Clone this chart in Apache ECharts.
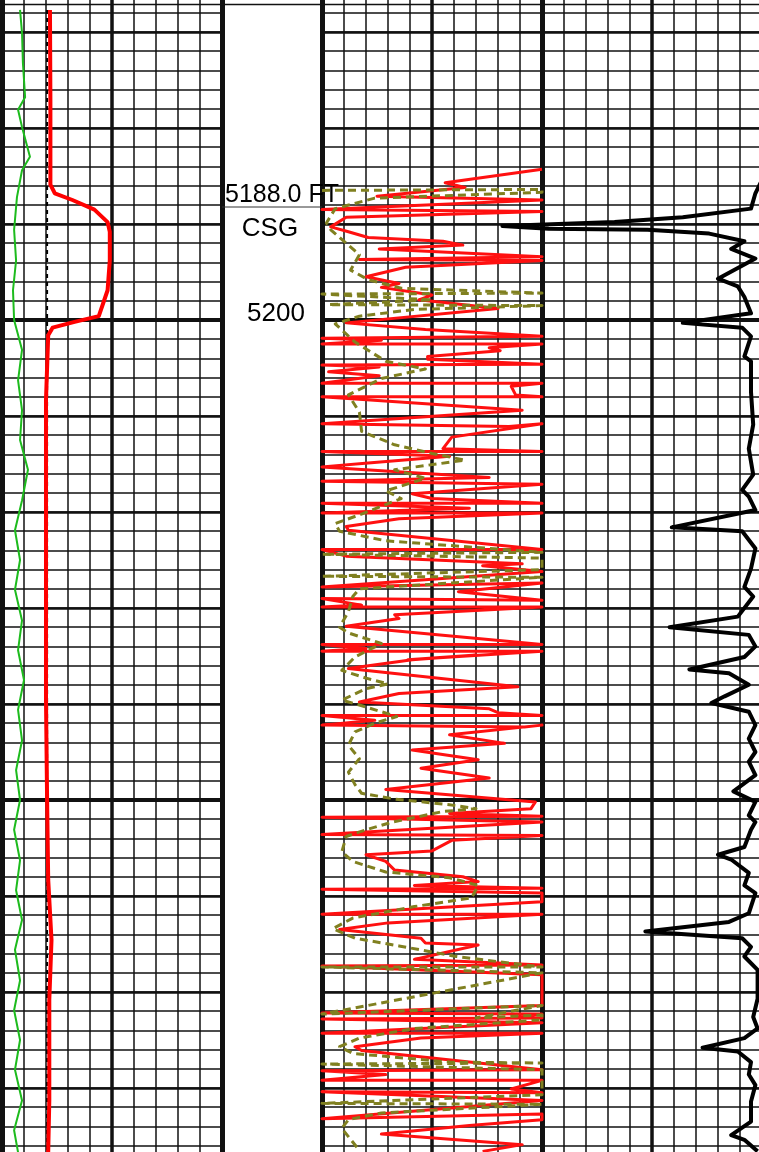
<!DOCTYPE html>
<html>
<head>
<meta charset="utf-8">
<script src="https://cdn.jsdelivr.net/npm/echarts@6.0.0/dist/echarts.min.js"></script>
<style>
  html, body { margin: 0; padding: 0; background: #fff; }
  #log { width: 759px; height: 1152px; }
</style>
</head>
<body>
<div id="log"></div>
<script>
// depth in ft, value in chart divisions (0..10 across each track)

// track 1
const greenCurve = [
  [5167.7, 0.82], [5170.1, 0.91], [5173.2, 0.95], [5176.8, 1.05], [5178.1, 0.73], [5179.9, 0.91],
  [5183.0, 1.27], [5184.4, 0.91], [5187.2, 0.68], [5190.6, 0.55], [5193.8, 0.64], [5196.9, 0.5],
  [5200.0, 0.55], [5203.1, 0.91], [5206.3, 0.73], [5209.4, 0.91], [5212.5, 0.82], [5215.6, 1.18],
  [5218.8, 0.91], [5221.9, 0.59], [5225.0, 0.82], [5228.1, 0.59], [5231.3, 0.91], [5234.4, 0.73],
  [5237.5, 1.0], [5240.6, 0.73], [5243.8, 0.91], [5246.9, 0.64], [5250.0, 0.82], [5253.1, 0.55],
  [5256.3, 0.82], [5259.4, 0.64], [5262.5, 0.91], [5265.6, 0.59], [5268.8, 0.82], [5271.9, 0.55],
  [5275.0, 0.82], [5278.1, 0.59], [5281.3, 0.91], [5284.4, 0.55], [5286.7, 0.73]
];
const redCurve1 = [
  [5167.7, 2.18], [5177.1, 2.2], [5182.3, 2.2], [5185.9, 2.2], [5186.8, 2.4], [5187.5, 3.2],
  [5188.5, 4.2], [5189.8, 4.8], [5190.8, 4.9], [5193.8, 4.9], [5196.9, 4.8], [5199.6, 4.4],
  [5200.2, 3.3], [5200.8, 2.3], [5201.6, 2.1], [5208.3, 2.0], [5218.8, 2.0], [5229.2, 2.0],
  [5239.6, 2.0], [5250.0, 2.05], [5258.3, 2.1], [5264.6, 2.25], [5270.8, 2.15], [5281.3, 2.15],
  [5286.7, 2.1]
];
const dashedCurve1 = [
  [5167.7, 2.05], [5200.0, 2.05], [5250.0, 2.05], [5286.7, 2.05]
];

// track 2
const redCurve2 = [
  [5184.3, 10], [5185.7, 5.6], [5186.2, 6.5], [5187.1, 2.5], [5187.5, 10], [5188.5, 0], [5188.7, 10],
  [5189.3, 1.1], [5190.3, 0.4], [5190.8, 1.2], [5191.4, 2.1], [5191.8, 5.5], [5192.2, 6.4], [5192.6, 2.6],
  [5193.4, 10], [5193.7, 1.7], [5193.8, 10], [5194.5, 3.8], [5195.5, 2.0], [5196.2, 3.5], [5196.6, 2.7],
  [5197.4, 5.0], [5197.9, 4.4], [5198.8, 8.0], [5200.3, 1.1],
  [5201.0, 4.7], [5201.7, 10], [5201.9, 0], [5202.1, 2.7], [5202.5, 0], [5202.5, 10], [5202.9, 7.6],
  [5203.2, 8.1], [5203.8, 4.8], [5204.1, 4.8], [5204.6, 10], [5204.7, 0], [5204.9, 2.6], [5205.4, 0.3],
  [5205.8, 2.6], [5206.6, 0], [5206.6, 10], [5206.9, 8.6], [5207.8, 8.8], [5208.0, 10], [5208.0, 0],
  [5209.4, 9.1], [5210.8, 0], [5211.1, 8.5], [5210.8, 10], [5212.2, 5.9], [5213.4, 5.5], [5213.7, 10],
  [5213.7, 0], [5214.2, 5.8], [5214.9, 2.1], [5215.3, 0], [5216.4, 7.6], [5216.8, 0], [5217.1, 10],
  [5218.1, 4.1], [5218.6, 5.0], [5219.1, 10], [5219.1, 0], [5219.6, 6.7], [5220.1, 0], [5220.1, 10],
  [5220.7, 3.5], [5221.5, 1.1], [5221.9, 1.2], [5223.9, 10], [5223.9, 0], [5224.6, 1.1], [5225.4, 9.1],
  [5225.6, 7.3], [5226.2, 10], [5227.8, 0], [5227.4, 10], [5228.3, 6.2], [5229.2, 10], [5229.0, 0],
  [5229.7, 1.8], [5229.9, 0], [5229.9, 10], [5230.7, 3.3], [5231.1, 3.5], [5231.9, 1.1], [5233.8, 10],
  [5233.8, 0], [5234.2, 2.0], [5234.5, 0], [5234.5, 10], [5235.4, 3.9],
  [5234.9, 7.0], [5235.4, 4.1], [5236.3, 1.2], [5238.2, 8.9], [5238.9, 3.5], [5239.8, 1.7], [5240.5, 7.6],
  [5240.9, 8.0], [5241.2, 10], [5241.2, 0], [5241.7, 2.4], [5242.2, 0], [5242.4, 9.2], [5242.2, 10],
  [5243.2, 5.8], [5244.1, 8.3], [5244.8, 4.1], [5245.8, 7.1], [5246.7, 4.5], [5247.7, 7.6], [5248.9, 2.9],
  [5250.2, 9.7], [5250.9, 9.5], [5251.4, 5.8], [5251.7, 10], [5251.8, 0],
  [5252.3, 10], [5253.6, 0], [5253.7, 10], [5254.2, 5.9], [5255.3, 5.0], [5255.7, 2.0], [5256.4, 2.9],
  [5257.3, 3.3], [5258.0, 6.4], [5258.5, 7.1], [5258.9, 4.2], [5259.2, 10], [5259.3, 0], [5259.7, 10],
  [5260.6, 10], [5261.9, 0], [5261.9, 10], [5262.8, 3.0], [5263.5, 0.8], [5264.4, 4.5], [5264.9, 4.7],
  [5265.1, 7.1], [5266.6, 4.2], [5267.2, 10], [5267.3, 0], [5267.4, 1.1], [5268.2, 10],
  [5271.4, 10], [5272.2, 0], [5272.3, 10], [5272.6, 8.8], [5272.7, 10], [5272.8, 0], [5273.2, 10],
  [5274.3, 0], [5274.3, 10], [5274.8, 4.5], [5275.7, 1.5], [5276.1, 1.8], [5278.1, 10], [5278.2, 0],
  [5278.6, 2.9], [5279.2, 0], [5279.2, 10], [5280.1, 8.6], [5280.5, 10], [5280.4, 0], [5281.3, 10],
  [5283.2, 0], [5282.7, 10], [5283.3, 10], [5283.9, 6.7], [5284.8, 2.7], [5285.9, 9.1], [5286.6, 7.3]
];
const oliveCurve2 = [
  [5186.5, 0], [5186.4, 10], [5186.7, 10], [5187.3, 2.4], [5188.4, 0.6], [5189.9, 0.2], [5190.6, 0.4],
  [5192.0, 1.1], [5193.2, 1.7], [5194.8, 1.3], [5195.8, 2.1], [5196.7, 3.6], [5197.2, 10], [5197.3, 0],
  [5197.9, 5.0], [5198.4, 0.3], [5198.5, 10], [5198.9, 4.2], [5199.6, 1.7], [5200.4, 0.6],
  [5202.3, 1.5], [5204.3, 2.9], [5205.1, 4.7], [5206.1, 2.7], [5207.8, 1.2], [5209.6, 1.7], [5211.6, 1.8],
  [5213.0, 3.3], [5213.9, 5.0], [5214.6, 6.5], [5215.6, 3.3], [5216.5, 4.7], [5217.8, 2.9],
  [5218.6, 3.6], [5220.3, 1.7], [5221.2, 0.6], [5222.0, 0.8], [5223.0, 2.9], [5224.2, 10], [5224.4, 0],
  [5224.8, 10], [5226.0, 10], [5226.7, 0], [5226.8, 10], [5228.0, 1.7], [5228.8, 1.4], [5230.4, 1.2],
  [5232.0, 0.8], [5232.6, 1.2], [5233.7, 2.7], [5235.1, 1.5],
  [5236.5, 0.9], [5237.3, 2.0], [5237.9, 3.0], [5238.4, 2.0], [5239.6, 0.9], [5240.1, 1.7], [5241.3, 3.4],
  [5242.0, 2.4], [5242.9, 1.5], [5244.3, 1.2], [5245.7, 1.7], [5247.1, 1.2], [5248.4, 1.5], [5249.3, 1.8],
  [5249.9, 3.3], [5250.5, 5.8], [5250.9, 7.0], [5251.2, 5.5], [5252.3, 3.2],
  [5253.1, 2.0], [5253.8, 1.1], [5255.4, 0.9], [5256.4, 1.4], [5257.5, 2.9], [5258.1, 5.8], [5258.9, 7.1],
  [5260.2, 6.8], [5261.1, 4.2], [5262.3, 1.4], [5263.4, 0.5], [5264.4, 1.5], [5265.2, 3.5], [5266.3, 6.1],
  [5267.4, 10], [5267.4, 0], [5268.0, 10],
  [5272.3, 0], [5271.4, 10], [5272.7, 7.0], [5272.4, 10], [5272.9, 10], [5273.8, 4.2], [5274.8, 1.7],
  [5275.7, 0.8], [5276.4, 1.4], [5277.3, 5.8], [5277.4, 10], [5277.5, 0], [5278.1, 10], [5280.7, 10],
  [5281.6, 0], [5281.7, 10], [5282.6, 2.7], [5283.3, 1.2], [5284.2, 0.9], [5286.5, 1.7]
];

// track 3
const blackCurve3 = [
  [5185.4, 10.0], [5186.8, 9.7], [5188.4, 9.5], [5189.3, 6.4], [5189.8, 3.3], [5190.2, -1.8], [5190.5, 0.3],
  [5190.6, 4.8], [5191.0, 7.6], [5191.8, 9.2], [5192.6, 8.6], [5193.6, 9.7], [5195.7, 8.0], [5196.5, 8.9],
  [5197.6, 9.2], [5199.3, 9.5], [5200.3, 6.4],
  [5200.8, 9.1], [5201.7, 9.5], [5203.8, 9.2], [5204.3, 9.5], [5207.5, 9.5], [5210.9, 9.6], [5213.4, 9.4],
  [5216.1, 9.6], [5217.7, 9.1],
  [5218.4, 9.4], [5219.8, 9.7], [5221.6, 5.9], [5222.0, 9.1], [5223.8, 9.7], [5225.9, 9.5], [5227.8, 9.2],
  [5228.8, 9.6], [5230.9, 8.9], [5232.0, 5.8], [5232.8, 9.4], [5234.0, 9.7], [5235.1, 9.2],
  [5236.4, 6.7], [5236.8, 8.5], [5238.0, 9.4], [5239.2, 8.3], [5239.9, 7.7], [5240.8, 9.4], [5242.2, 9.7],
  [5243.6, 9.4], [5245.0, 9.7], [5246.0, 9.4], [5247.4, 9.7], [5249.1, 8.7], [5250.2, 9.7], [5251.6, 9.4],
  [5252.3, 9.7], [5253.1, 9.5], [5254.9, 9.2], [5255.7, 8.0], [5256.2, 8.6], [5257.6, 9.4], [5258.9, 9.2],
  [5259.7, 9.7], [5261.8, 9.4], [5262.7, 8.5], [5263.7, 4.7], [5264.4, 9.1], [5265.3, 9.5], [5266.3, 9.2],
  [5267.7, 9.8], [5269.4, 9.8], [5270.7, 9.8], [5272.6, 9.6], [5273.8, 9.8], [5274.8, 9.2], [5275.8, 7.3],
  [5276.2, 8.9], [5277.3, 9.5], [5278.6, 9.4], [5279.7, 9.7], [5281.4, 9.5], [5283.5, 9.5], [5284.9, 8.6],
  [5285.4, 9.2], [5286.6, 9.8]
];

const depthLabels = ['5188.0 FT', 'CSG', '5200'];

const trackLeft = [2, 322, 542];
const gridTop = -160, gridHeight = 1440;   // 5150 .. 5300 ft, 9.6 px per ft
const divPx = 22;

let grids = [], xAxes = [], yAxes = [];
function depthAxis(gi, iv, w, show) {
  return {
    type: 'value', gridIndex: gi, min: 5150, max: 5300, interval: iv, inverse: true,
    axisLine: { show: false }, axisTick: { show: false }, axisLabel: { show: false },
    splitLine: { show: show, lineStyle: { color: '#111', width: w } }
  };
}
trackLeft.forEach((left, gi) => {
  grids.push({ left: left, top: gridTop, width: 10 * divPx, height: gridHeight, outerBoundsMode: 'none' });
  [[1, 1.5], [5, 3.5], [10, 5]].forEach(([iv, w]) => {
    xAxes.push({
      type: 'value', gridIndex: gi, min: 0, max: 10, interval: iv,
      axisLine: { show: false }, axisTick: { show: false }, axisLabel: { show: false },
      splitLine: { show: true, lineStyle: { color: '#111', width: w } }
    });
  });
  [[2, 1.5], [10, 2.5], [50, 4]].forEach(([iv, w]) => yAxes.push(depthAxis(gi, iv, w, true)));
});
// wider, invisible frame for track 3 so its curve can swing past the left border
grids.push({ left: trackLeft[2] - 2 * divPx, top: gridTop, width: 12 * divPx, height: gridHeight, outerBoundsMode: 'none' });
xAxes.push({
  type: 'value', gridIndex: 3, min: -2, max: 10, interval: 2,
  axisLine: { show: false }, axisTick: { show: false }, axisLabel: { show: false }, splitLine: { show: false }
});
yAxes.push(depthAxis(3, 10, 1, false));

function curve(data, xi, yi, color, width, dash) {
  return {
    type: 'line', xAxisIndex: xi, yAxisIndex: yi,
    data: data.map(p => [p[1], p[0]]),
    showSymbol: false, symbol: 'none', silent: true,
    lineStyle: { color: color, width: width, type: dash || 'solid', join: 'round' },
    z: 5
  };
}

let chart = echarts.init(document.getElementById('log'));
chart.setOption({
  animation: false,
  backgroundColor: '#fff',
  grid: grids,
  xAxis: xAxes,
  yAxis: yAxes,
  series: [
    curve(greenCurve, 0, 0, '#1dbb1d', 2),
    curve(dashedCurve1, 0, 0, '#000', 2, [4, 4]),
    curve(redCurve1, 0, 0, '#ff0000', 4),
    curve(redCurve2, 3, 3, '#ff1010', 3),
    curve(oliveCurve2, 3, 3, '#808020', 3, [8, 5]),
    curve(blackCurve3, 9, 9, '#000', 4)
  ],
  graphic: [
    { type: 'line', shape: { x1: 0, y1: 4.5, x2: 759, y2: 4.5 }, style: { stroke: '#111', lineWidth: 1.5 }, z: 50 },
    { type: 'line', shape: { x1: 222, y1: 207, x2: 322, y2: 207 }, style: { stroke: '#333', lineWidth: 1 }, z: 50 },
    { type: 'text', x: 282, y: 195, z: 100, style: { text: depthLabels[0], font: '25px "Liberation Sans", Arial', fill: '#000', align: 'center', verticalAlign: 'middle' } },
    { type: 'text', x: 270, y: 229, z: 100, style: { text: depthLabels[1], font: '26px "Liberation Sans", Arial', fill: '#000', align: 'center', verticalAlign: 'middle' } },
    { type: 'text', x: 276, y: 314, z: 100, style: { text: depthLabels[2], font: '26px "Liberation Sans", Arial', fill: '#000', align: 'center', verticalAlign: 'middle' } }
  ]
});
</script>
</body>
</html>
